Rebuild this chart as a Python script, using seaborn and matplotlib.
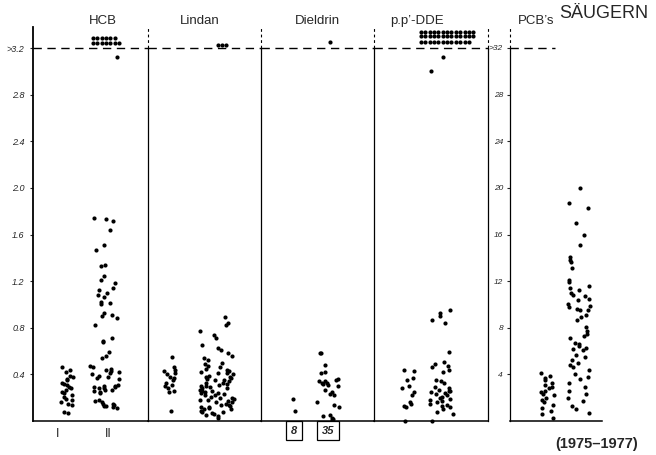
import numpy as np
import matplotlib
matplotlib.use('Agg')
import matplotlib.pyplot as plt
import seaborn as sns

# Rueckstaende in Saeugern (1975-1977), Gruppen I und II
groups = ['I', 'II']

hcb_I = [0.46, 0.44, 0.42, 0.39, 0.38, 0.36, 0.35, 0.33, 0.32, 0.31, 0.29, 0.28,
         0.27, 0.25, 0.24, 0.22, 0.21, 0.19, 0.18, 0.16, 0.15, 0.14, 0.08, 0.07]
hcb_II = [3.12, 1.74, 1.73, 1.72, 1.64, 1.51, 1.47, 1.34, 1.33, 1.24, 1.21, 1.18,
          1.14, 1.12, 1.10, 1.08, 1.06, 1.02, 1.01, 1.00, 0.93, 0.91, 0.90, 0.88,
          0.82, 0.71, 0.69, 0.68, 0.59, 0.56, 0.54, 0.47, 0.46, 0.45, 0.44, 0.43,
          0.42, 0.41, 0.40, 0.39, 0.38, 0.37, 0.36, 0.31, 0.30, 0.30, 0.29, 0.29,
          0.28, 0.28, 0.27, 0.27, 0.26, 0.25, 0.24, 0.18, 0.17, 0.16, 0.15, 0.15,
          0.14, 0.13, 0.13, 0.12, 0.11]
hcb_over = [3.29, 3.29, 3.29, 3.29, 3.29, 3.29,
            3.24, 3.24, 3.24, 3.24, 3.24, 3.24, 3.24]

lindan_I = [0.55, 0.46, 0.44, 0.43, 0.41, 0.40, 0.38, 0.37, 0.35, 0.33, 0.31, 0.30,
            0.28, 0.26, 0.25, 0.09]
lindan_II = [0.89, 0.84, 0.82, 0.77, 0.74, 0.71, 0.65, 0.63, 0.61, 0.58, 0.56, 0.54,
             0.52, 0.50, 0.49, 0.47, 0.46, 0.45, 0.44, 0.43, 0.42, 0.41, 0.41, 0.40,
             0.39, 0.38, 0.38, 0.37, 0.36, 0.35, 0.35, 0.34, 0.33, 0.33, 0.32, 0.31,
             0.30, 0.30, 0.29, 0.28, 0.28, 0.27, 0.26, 0.26, 0.25, 0.24, 0.24, 0.23,
             0.22, 0.22, 0.21, 0.20, 0.20, 0.19, 0.18, 0.18, 0.17, 0.16, 0.16, 0.15,
             0.14, 0.14, 0.13, 0.12, 0.12, 0.11, 0.10, 0.10, 0.09, 0.08, 0.08, 0.07,
             0.06, 0.05, 0.04, 0.03]
lindan_over = [3.23, 3.23, 3.23]

dieldrin_I = [0.19, 0.09]
dieldrin_II = [0.58, 0.58, 0.48, 0.42, 0.41, 0.36, 0.35, 0.34, 0.34, 0.33, 0.33, 0.32,
               0.31, 0.30, 0.27, 0.25, 0.23, 0.22, 0.16, 0.14, 0.12, 0.05, 0.04, 0.03,
               0.02, 0.01]
dieldrin_over = [3.25]
dieldrin_n = ['8', '35']

dde_I = [0.44, 0.43, 0.37, 0.35, 0.30, 0.28, 0.25, 0.22, 0.16, 0.15, 0.13, 0.12, 0.00]
dde_II = [3.12, 3.00, 0.95, 0.93, 0.90, 0.87, 0.84, 0.59, 0.51, 0.49, 0.47, 0.46,
          0.44, 0.42, 0.35, 0.34, 0.33, 0.29, 0.28, 0.27, 0.26, 0.26, 0.25, 0.24,
          0.23, 0.22, 0.21, 0.20, 0.19, 0.18, 0.17, 0.16, 0.15, 0.14, 0.13, 0.12,
          0.10, 0.08, 0.06, 0.00]
dde_over = [3.34] * 13 + [3.30] * 13 + [3.25] * 12

pcb_I = [4.1, 3.9, 3.7, 3.5, 3.3, 3.1, 2.9, 2.8, 2.6, 2.5, 2.3, 2.2, 2.0, 1.8, 1.6,
         1.4, 1.1, 0.9, 0.6, 0.3]
pcb_II = [20.0, 18.7, 18.3, 17.0, 16.0, 15.1, 14.1, 13.8, 13.6, 13.1, 12.1, 11.9,
          11.6, 11.4, 11.2, 11.0, 10.8, 10.7, 10.5, 10.4, 10.0, 9.9, 9.8, 9.6, 9.5,
          9.5, 9.1, 8.9, 8.7, 8.1, 7.7, 7.5, 7.3, 7.1, 6.7, 6.6, 6.4, 6.3, 6.2, 6.1,
          5.7, 5.5, 5.2, 5.0, 4.8, 4.6, 4.4, 4.0, 3.8, 3.6, 3.3, 2.9, 2.6, 2.3, 2.0,
          1.7, 1.3, 1.0, 0.7]

ticks_left = [0.4, 0.8, 1.2, 1.6, 2.0, 2.4, 2.8, 3.2]
ticklabels_left = ['0.4', '0.8', '1.2', '1.6', '2.0', '2.4', '2.8', '>3.2']
ticks_pcb = [4, 8, 12, 16, 20, 24, 28, 32]
ticklabels_pcb = ['4', '8', '12', '16', '20', '24', '28', '>32']

# layout in pixels: panel x range, group centres, jitter, centre of overflow rows
FIG_W, FIG_H = 656, 455
Y0, Y1, Y_CUT = 421, 27, 48
panels = [
    ('HCB', 'HCB', 33, 148, (67, 105), (6, 15), 106, 103),
    ('Lindan', 'Lindan', 148, 261, (170, 217), (6, 17), 222, 200),
    ('Dieldrin', 'Dieldrin', 261, 374, (294, 328), (2, 12), 330, 317),
    ('DDE', 'p.p\u2019-DDE', 374, 488, (408, 441), (6, 12), 447, 417),
    ('PCB', 'PCB\u2019s', 510, 602, (547, 579), (7, 11), None, 536),
]
data = {
    'HCB': (hcb_I, hcb_II, hcb_over),
    'Lindan': (lindan_I, lindan_II, lindan_over),
    'Dieldrin': (dieldrin_I, dieldrin_II, dieldrin_over),
    'DDE': (dde_I, dde_II, dde_over),
    'PCB': (pcb_I, pcb_II, []),
}

sns.set_style('white')
plt.rcParams['font.family'] = ['Liberation Sans', 'DejaVu Sans']
np.random.seed(7)

fig = plt.figure(figsize=(FIG_W / 100, FIG_H / 100), dpi=100)
dot = 3.0

for key, title, x0, x1, (c1, c2), (j1, j2), oc, tx in panels:
    rect = [x0 / FIG_W, (FIG_H - Y0) / FIG_H, (x1 - x0) / FIG_W, (Y0 - Y1) / FIG_H]
    ax = fig.add_axes(rect)
    cut = 32 if key == 'PCB' else 3.2
    ytop = cut * (Y0 - Y1) / (Y0 - Y_CUT)
    unit = c2 - c1
    v1, v2, over = data[key]

    sns.stripplot(x=['I'] * len(v1), y=v1, order=groups, jitter=j1 / unit,
                  color='black', size=dot, linewidth=0, ax=ax)
    sns.stripplot(x=['II'] * len(v2), y=v2, order=groups, jitter=j2 / unit,
                  color='black', size=dot, linewidth=0, ax=ax)
    for coll in ax.collections:
        coll.set_clip_on(False)

    xl, xr = (x0 - c1) / unit, (x1 - c1) / unit
    ax.set_xlim(xl, xr)
    ax.set_ylim(0, ytop)
    ax.set_xticks([])
    ax.set_xlabel('')
    ax.set_ylabel('')
    ax.patch.set_alpha(0)

    ax.spines['top'].set_visible(False)
    ax.spines['right'].set_visible(False)
    ax.spines['bottom'].set_linewidth(1.1)
    ax.spines['bottom'].set_color('black')
    ax.spines['left'].set_color('black')
    if key == 'HCB':
        ax.spines['left'].set_linewidth(1.3)
    else:
        ax.spines['left'].set_linewidth(0.9)
        ax.spines['left'].set_bounds(0, cut)
        ax.plot([xl, xl], [cut, ytop], color='black', lw=0.8, dashes=(2.5, 2.5),
                clip_on=False)
    if key == 'DDE':
        ax.spines['right'].set_visible(True)
        ax.spines['right'].set_color('black')
        ax.spines['right'].set_linewidth(0.9)
        ax.spines['right'].set_bounds(0, cut)
        ax.plot([xr, xr], [cut, ytop], color='black', lw=0.8, dashes=(2.5, 2.5),
                clip_on=False)

    if key == 'PCB':
        ax.axhline(cut, xmax=(555 - x0) / (x1 - x0), color='black', lw=1.0, dashes=(6, 4))
    else:
        ax.axhline(cut, color='black', lw=1.0, dashes=(6, 4))

    if key == 'HCB':
        ax.set_yticks(ticks_left)
        ax.set_yticklabels(ticklabels_left)
        ax.tick_params(axis='y', left=True, length=2, width=0.8, labelsize=6.5, pad=4)
    elif key == 'PCB':
        ax.set_yticks(ticks_pcb)
        ax.set_yticklabels(ticklabels_pcb)
        ax.tick_params(axis='y', left=True, length=2, width=0.8, labelsize=6, pad=3)
    else:
        ax.set_yticks([])
    for lbl in ax.get_yticklabels():
        lbl.set_style('italic')

    # values above 3.2 stacked in rows
    if over:
        ou = 90
        ov = fig.add_axes(rect)
        sns.swarmplot(x=['II'] * len(over), y=over, order=['II'], color='black',
                      size=dot, linewidth=0, ax=ov)
        ov.set_xlim((x0 - oc) / ou, (x1 - oc) / ou)
        ov.set_ylim(0, ytop)
        ov.axis('off')
        for coll in ov.collections:
            coll.set_clip_on(False)

    fig.text(tx / FIG_W, 1 - 21 / FIG_H, title, ha='center', va='center', fontsize=9.5)

    if key == 'Dieldrin':
        for pos, n in zip([0, 1], dieldrin_n):
            ax.text(pos, -0.025, n, transform=ax.get_xaxis_transform(), ha='center',
                    va='center', fontsize=8, style='italic', fontweight='bold',
                    bbox=dict(boxstyle='square,pad=0.4', fc='white', ec='black', lw=0.9))

fig.text(58 / FIG_W, 1 - 434 / FIG_H, 'I', ha='center', va='center', fontsize=9)
fig.text(108 / FIG_W, 1 - 434 / FIG_H, 'II', ha='center', va='center', fontsize=9)
fig.text(604 / FIG_W, 1 - 14 / FIG_H, 'SÄUGERN', ha='center', va='center', fontsize=13)
fig.text(597 / FIG_W, 1 - 444 / FIG_H, '(1975\u20131977)', ha='center', va='center',
         fontsize=10.5, fontweight='bold')

plt.savefig('out.png', dpi=100)
